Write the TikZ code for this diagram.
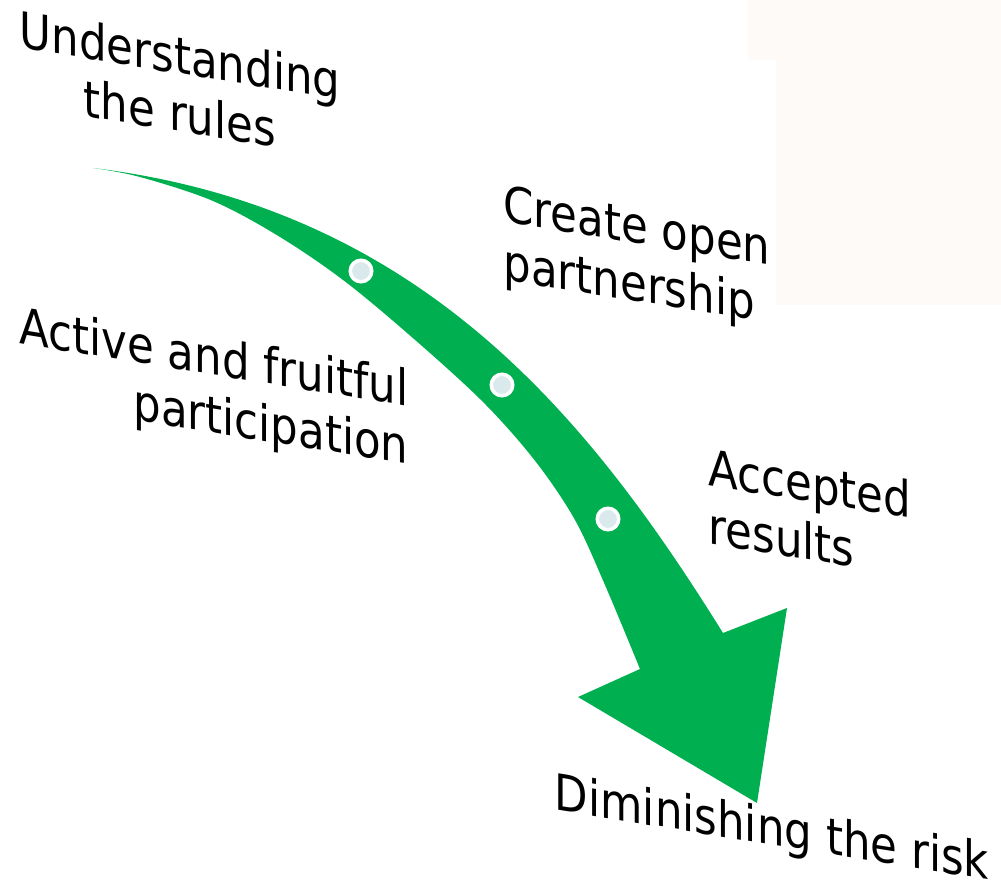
\documentclass[tikz,border=0pt]{standalone}
\usepackage{fontspec}
\newfontfamily\labelfont{DejaVu Sans}
\definecolor{arrowgreen}{RGB}{0,176,80}
\definecolor{dotfill}{RGB}{218,234,236}
\definecolor{panel}{RGB}{254,250,247}
\begin{document}
\begin{tikzpicture}[x=1pt,y=-1pt,
  lbl/.style={font=\labelfont\fontsize{50}{58}\selectfont, inner sep=0pt, xscale=0.87, yslant=-0.14},
  dot/.style={circle, fill=dotfill, draw=white, line width=3.5pt, minimum size=21.5pt, inner sep=0pt}]
\useasboundingbox (0,0) rectangle (1001,890);
\fill[panel] (748,0) -- (1001,0) -- (1001,305) -- (776,305) -- (776,60) -- (748,60) -- cycle;
\fill[arrowgreen] (93,168) .. controls (423,208) and (591,421) .. (723,633)
  -- (787,608) -- (757,803) -- (578,697) -- (640,669)
  -- plot[smooth, tension=0.55] coordinates {(640,669) (605,585) (575,520) (536,462) (486,405) (422,346) (347,283) (280,237) (213,201) (140,177) (93,168)} -- cycle;
\node[dot] (d1) at (361,271) {};
\node[dot] (d2) at (502,385) {};
\node[dot] (d3) at (608,519) {};
\node[lbl, align=center] (rules) at (180,84) {Understanding\\the rules};
\node[lbl, align=left] (open) at (637,259) {Create open\\partnership};
\node[lbl, align=right] (active) at (214,390) {Active and fruitful\\participation};
\node[lbl, align=left] (accepted) at (810,512) {Accepted\\results};
\node[lbl] (risk) at (772,831) {Diminishing the risk};
\end{tikzpicture}
\end{document}
